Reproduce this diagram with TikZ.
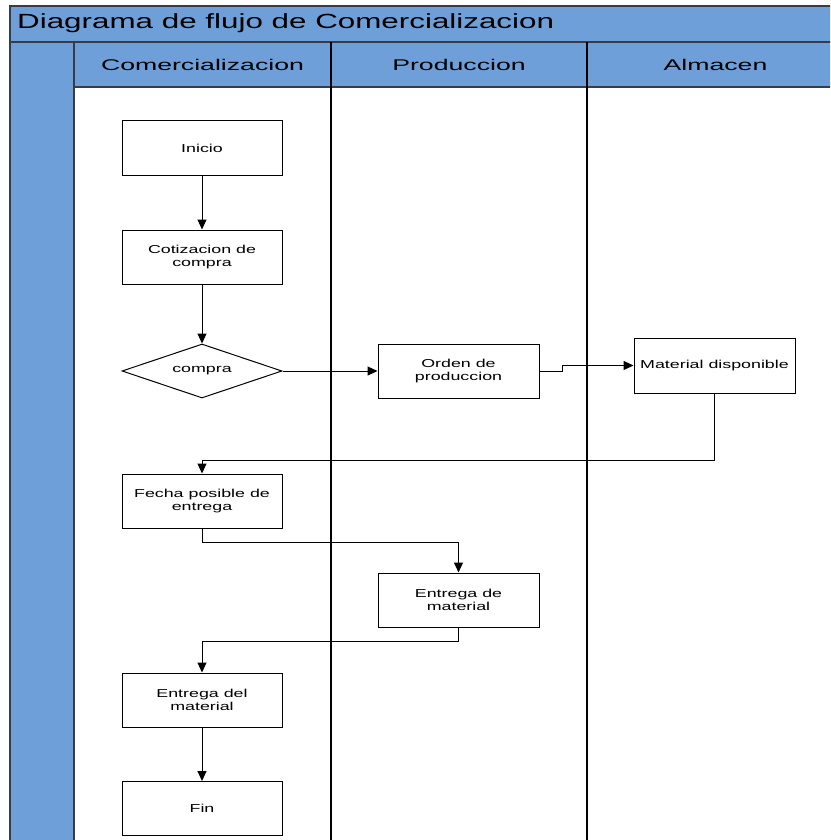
\documentclass[tikz,border=0pt]{standalone}
\usepackage{fontspec}
\setmainfont{Liberation Sans}
\newfontfamily\titlefont[FakeStretch=1.53]{Liberation Sans}
\newfontfamily\lanefont[FakeStretch=1.72]{Liberation Sans}
\newfontfamily\boxfont[FakeStretch=1.55]{Liberation Sans}
\usetikzlibrary{shapes.geometric,arrows.meta}
\definecolor{laneblue}{RGB}{111,159,216}
\definecolor{frameline}{RGB}{55,60,72}
\tikzset{
  stepbox/.style={draw=black, line width=1pt, fill=white, minimum width=160pt,
    minimum height=54pt, inner sep=0pt, align=center,
    font=\boxfont\fontsize{11.5}{13.5}\selectfont},
  decisionbox/.style={diamond, draw=black, line width=1pt, fill=white,
    minimum width=160pt, minimum height=54pt, inner sep=0pt, aspect=2.96,
    font=\boxfont\fontsize{11.5}{13.5}\selectfont},
  flow/.style={draw=black, line width=1pt, -{Triangle[length=10pt,width=9pt]}},
  lanehead/.style={inner sep=0pt, font=\lanefont\fontsize{15.5}{18}\selectfont},
  frame/.style={draw=frameline, line width=2pt},
  laneline/.style={draw=black, line width=1.5pt}
}
\begin{document}
\begin{tikzpicture}[x=1pt,y=-1pt]
\clip (0,0) rectangle (830,840);
\fill[white] (0,0) rectangle (830,840);

% pool background
\fill[laneblue] (10,6) rectangle (850,42);
\fill[laneblue] (10,42) rectangle (74,860);
\fill[laneblue] (74,42) rectangle (850,87);

% pool frame and lane dividers
\draw[frame] (10,860) -- (10,6) -- (850,6);
\draw[frame] (10,42) -- (850,42);
\draw[frame] (74,42) -- (74,860);
\draw[frameline, line width=1.5pt] (74,87) -- (850,87);
\draw[laneline] (331,42) -- (331,860);
\draw[laneline] (587,42) -- (587,860);

% titles
\node[anchor=west, inner sep=0pt, font=\titlefont\fontsize{20.5}{24}\selectfont]
  (title) at (17,23.5) {Diagrama de flujo de Comercializacion};
\node[lanehead] (lane1) at (202.5,65) {Comercializacion};
\node[lanehead] (lane2) at (459,65) {Produccion};
\node[lanehead] (lane3) at (715.5,65) {Almacen};

% process steps
\node[stepbox] (inicio) at (202,148) {Inicio};
\node[stepbox] (cotiz) at (202,257) {Cotizacion de\\compra};
\node[decisionbox] (compra) at (202,371) {compra};
\node[stepbox, minimum width=161pt] (orden) at (458.5,371) {Orden de\\produccion};
\node[stepbox, minimum width=161pt, minimum height=55pt] (matdisp) at (714.5,365.5) {Material disponible};
\node[stepbox] (fecha) at (202,501) {Fecha posible de\\entrega};
\node[stepbox, minimum width=161pt] (entmat) at (458.5,600) {Entrega de\\material};
\node[stepbox] (entdel) at (202,700) {Entrega del\\material};
\node[stepbox] (fin) at (202,808.5) {Fin};

% connectors
\draw[flow] (inicio) -- (cotiz);
\draw[flow] (cotiz) -- (compra);
\draw[flow] (compra) -- (orden);
\draw[flow] (orden.east) -- ++(23,0) |- (matdisp.west);
\draw[flow] (matdisp.south) -- ++(0,67) -| (fecha.north);
\draw[flow] (fecha.south) -- ++(0,14) -| (entmat.north);
\draw[flow] (entmat.south) -- ++(0,14) -| (entdel.north);
\draw[flow] (entdel) -- (fin);
\end{tikzpicture}
\end{document}
